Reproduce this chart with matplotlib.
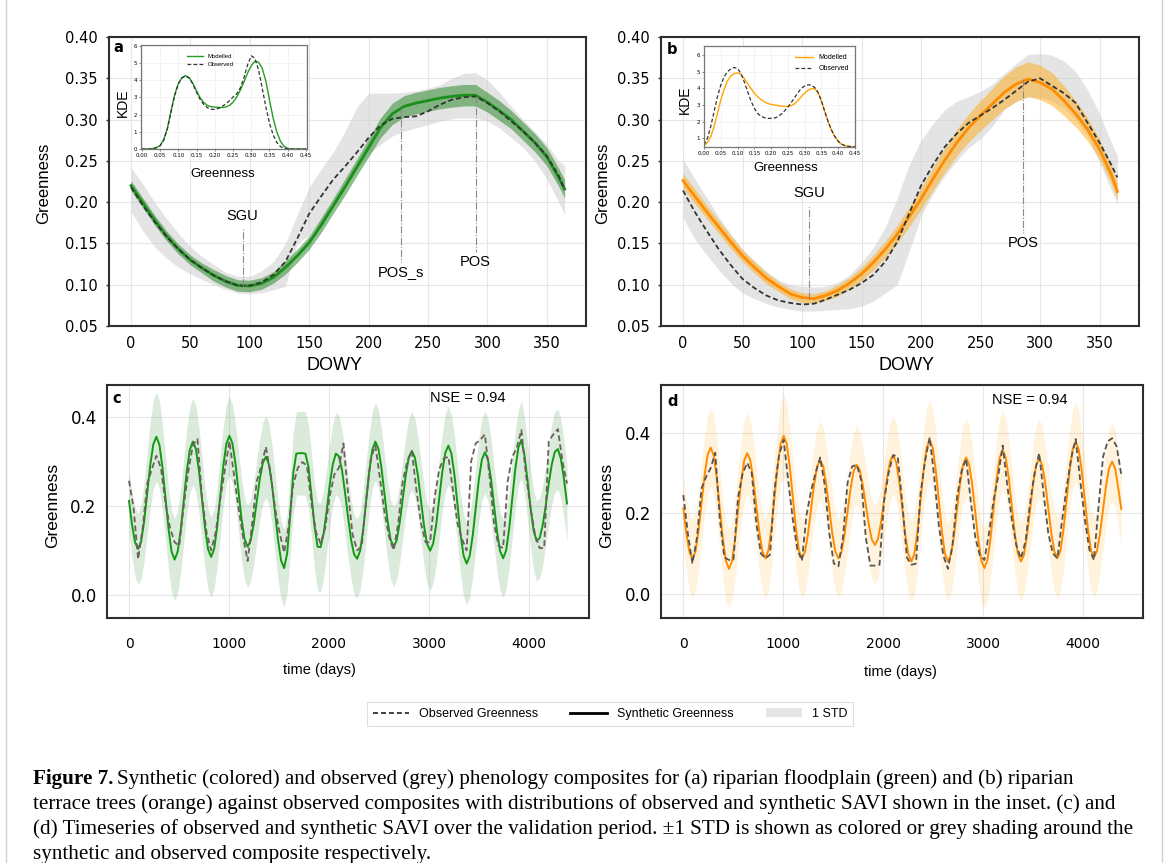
import numpy as np
import matplotlib
matplotlib.use("Agg")
import matplotlib.pyplot as plt
from matplotlib.lines import Line2D
from matplotlib.patches import Patch
from matplotlib.ticker import FormatStrFormatter

plt.rcParams['font.family'] = 'DejaVu Sans'
SANS = 'Liberation Sans'
SERIF = 'Liberation Serif'

# ---------------- composites (panels a, b) ----------------
dowy = [0, 10, 20, 30, 40, 50, 60, 70, 80, 90,
        100, 110, 120, 130, 140, 150, 160, 170, 180, 190,
        200, 210, 220, 230, 240, 250, 260, 270, 280, 290,
        300, 310, 320, 330, 340, 350, 360, 365]

a_mod = [0.220, 0.199, 0.178, 0.159, 0.143, 0.130, 0.120, 0.111, 0.104, 0.099,
         0.0985, 0.1015, 0.109, 0.121, 0.135, 0.151, 0.172, 0.195, 0.218, 0.242,
         0.266, 0.290, 0.307, 0.316, 0.320, 0.323, 0.326, 0.328, 0.3295, 0.3295,
         0.321, 0.311, 0.300, 0.286, 0.272, 0.255, 0.230, 0.216]
a_mod_std = [0.006, 0.006, 0.006, 0.006, 0.006, 0.006, 0.006, 0.007, 0.007, 0.007,
             0.007, 0.007, 0.007, 0.008, 0.008, 0.008, 0.009, 0.009, 0.010, 0.010,
             0.011, 0.012, 0.013, 0.013, 0.013, 0.013, 0.013, 0.013, 0.013, 0.013,
             0.012, 0.012, 0.011, 0.011, 0.011, 0.011, 0.011, 0.011]
a_obs = [0.218, 0.196, 0.176, 0.158, 0.143, 0.130, 0.120, 0.111, 0.104, 0.099,
         0.099, 0.103, 0.112, 0.128, 0.156, 0.186, 0.207, 0.227, 0.243, 0.260,
         0.278, 0.293, 0.301, 0.303, 0.304, 0.310, 0.318, 0.324, 0.327, 0.328,
         0.320, 0.310, 0.298, 0.286, 0.272, 0.256, 0.232, 0.215]
a_obs_lo = [0.189, 0.165, 0.146, 0.132, 0.121, 0.113, 0.106, 0.100, 0.094, 0.090,
            0.089, 0.090, 0.094, 0.098, 0.150, 0.160, 0.175, 0.198, 0.222, 0.240,
            0.258, 0.270, 0.280, 0.286, 0.290, 0.294, 0.298, 0.301, 0.302, 0.302,
            0.298, 0.290, 0.278, 0.266, 0.250, 0.228, 0.200, 0.185]
a_obs_hi = [0.242, 0.222, 0.200, 0.180, 0.162, 0.146, 0.134, 0.124, 0.115, 0.110,
            0.110, 0.117, 0.128, 0.150, 0.185, 0.218, 0.240, 0.260, 0.285, 0.315,
            0.332, 0.332, 0.332, 0.333, 0.335, 0.338, 0.342, 0.350, 0.356, 0.357,
            0.348, 0.333, 0.316, 0.300, 0.285, 0.270, 0.250, 0.245]

b_mod = [0.226, 0.207, 0.188, 0.170, 0.152, 0.135, 0.121, 0.108, 0.098, 0.089,
         0.0845, 0.083, 0.087, 0.093, 0.102, 0.113, 0.127, 0.143, 0.161, 0.182,
         0.204, 0.228, 0.251, 0.272, 0.290, 0.305, 0.319, 0.333, 0.343, 0.349,
         0.345, 0.337, 0.323, 0.307, 0.288, 0.264, 0.233, 0.213]
b_mod_std = [0.009, 0.009, 0.008, 0.008, 0.008, 0.007, 0.007, 0.007, 0.006, 0.006,
             0.006, 0.006, 0.006, 0.007, 0.007, 0.008, 0.009, 0.010, 0.011, 0.012,
             0.013, 0.014, 0.015, 0.016, 0.017, 0.018, 0.019, 0.020, 0.021, 0.021,
             0.021, 0.020, 0.018, 0.016, 0.014, 0.012, 0.011, 0.010]
b_obs = [0.214, 0.188, 0.165, 0.143, 0.124, 0.107, 0.096, 0.087, 0.081, 0.078,
         0.076, 0.077, 0.082, 0.088, 0.094, 0.102, 0.112, 0.128, 0.152, 0.186,
         0.220, 0.245, 0.267, 0.283, 0.296, 0.305, 0.314, 0.324, 0.335, 0.346,
         0.350, 0.341, 0.332, 0.320, 0.296, 0.272, 0.245, 0.230]
b_obs_lo = [0.181, 0.155, 0.136, 0.118, 0.102, 0.090, 0.083, 0.077, 0.073, 0.070,
            0.068, 0.068, 0.069, 0.070, 0.071, 0.074, 0.080, 0.090, 0.100, 0.140,
            0.183, 0.210, 0.232, 0.250, 0.266, 0.277, 0.292, 0.312, 0.322, 0.327,
            0.327, 0.322, 0.314, 0.300, 0.280, 0.248, 0.214, 0.198]
b_obs_hi = [0.252, 0.228, 0.205, 0.182, 0.162, 0.143, 0.129, 0.116, 0.106, 0.100,
            0.098, 0.097, 0.098, 0.103, 0.112, 0.127, 0.145, 0.170, 0.205, 0.245,
            0.275, 0.295, 0.312, 0.322, 0.328, 0.334, 0.343, 0.356, 0.368, 0.379,
            0.380, 0.378, 0.371, 0.358, 0.336, 0.307, 0.272, 0.256]

# phenology markers: name, day, value on curve, end of the marker line
a_events = ['SGU', 'POS_s', 'POS']
a_event_day = [94, 227, 290]
a_event_val = [0.098, 0.314, 0.328]
a_event_end = [0.168, 0.128, 0.140]
b_events = ['SGU', 'POS']
b_event_day = [106, 286]
b_event_val = [0.083, 0.349]
b_event_end = [0.196, 0.163]

# ---------------- KDE insets ----------------
kde_x = np.round(np.linspace(0, 0.45, 46), 2)
kde_a_mod = [0, 0, 0, 0.03, 0.08, 0.20, 0.55, 1.20, 2.20, 3.15,
             3.80, 4.15, 4.27, 4.15, 3.82, 3.38, 2.98, 2.70, 2.53, 2.46,
             2.44, 2.42, 2.41, 2.44, 2.53, 2.72, 3.02, 3.42, 3.90, 4.42,
             4.85, 5.10, 5.05, 4.70, 3.95, 2.85, 1.80, 1.00, 0.45, 0.15,
             0.04, 0, 0, 0, 0, 0]
kde_a_obs = [0, 0, 0, 0.02, 0.07, 0.18, 0.50, 1.15, 2.15, 3.10,
             3.78, 4.13, 4.25, 4.12, 3.78, 3.30, 2.88, 2.58, 2.40, 2.31,
             2.30, 2.36, 2.47, 2.62, 2.80, 3.02, 3.20, 3.55, 4.15, 4.90,
             5.42, 5.28, 4.60, 3.55, 2.45, 1.50, 0.82, 0.38, 0.14, 0.05,
             0.01, 0, 0, 0, 0, 0]
kde_b_mod = [0.55, 0.75, 1.10, 1.70, 2.50, 3.30, 3.95, 4.45, 4.75, 4.90,
             4.93, 4.85, 4.60, 4.30, 4.00, 3.72, 3.50, 3.32, 3.20, 3.10,
             3.04, 3.00, 2.97, 2.94, 2.92, 2.92, 2.96, 3.08, 3.28, 3.50,
             3.72, 3.90, 3.98, 3.98, 3.75, 3.25, 2.60, 2.00, 1.50, 1.10,
             0.82, 0.65, 0.56, 0.52, 0.50, 0.50]
kde_b_obs = [0.60, 1.00, 1.70, 2.60, 3.50, 4.20, 4.70, 5.00, 5.18, 5.26,
             5.20, 4.90, 4.40, 3.80, 3.25, 2.80, 2.50, 2.33, 2.24, 2.20,
             2.20, 2.22, 2.30, 2.45, 2.65, 2.88, 3.15, 3.45, 3.75, 4.00,
             4.15, 4.22, 4.20, 4.05, 3.75, 3.25, 2.60, 2.00, 1.50, 1.10,
             0.82, 0.65, 0.56, 0.52, 0.50, 0.50]

# ---------------- validation time series (panels c, d) ----------------
syn_days = np.linspace(0, 4380, 145)   # 12 samples per year
obs_days = np.linspace(0, 4380, 97)    # 8 samples per year

c_syn = [0.211, 0.157, 0.118, 0.103, 0.120, 0.166, 0.229, 0.292, 0.338, 0.355, 0.337, 0.286,
         0.217, 0.148, 0.097, 0.079, 0.097, 0.145, 0.212, 0.278, 0.326, 0.344, 0.327, 0.279,
         0.215, 0.150, 0.102, 0.085, 0.103, 0.153, 0.221, 0.289, 0.339, 0.357, 0.340, 0.295,
         0.233, 0.170, 0.125, 0.108, 0.122, 0.159, 0.209, 0.260, 0.296, 0.310, 0.293, 0.248,
         0.185, 0.123, 0.077, 0.060, 0.093, 0.179, 0.273, 0.317, 0.318, 0.318, 0.317, 0.287,
         0.223, 0.154, 0.108, 0.107, 0.138, 0.189, 0.247, 0.293, 0.317, 0.311, 0.281, 0.231,
         0.175, 0.124, 0.091, 0.081, 0.099, 0.147, 0.213, 0.278, 0.326, 0.344, 0.328, 0.285,
         0.226, 0.167, 0.124, 0.108, 0.122, 0.162, 0.216, 0.269, 0.309, 0.323, 0.308, 0.267,
         0.211, 0.155, 0.114, 0.099, 0.115, 0.158, 0.217, 0.276, 0.319, 0.335, 0.317, 0.269,
         0.203, 0.136, 0.088, 0.070, 0.087, 0.133, 0.195, 0.258, 0.303, 0.320, 0.304, 0.261,
         0.201, 0.142, 0.098, 0.082, 0.100, 0.149, 0.215, 0.282, 0.330, 0.348, 0.314, 0.258,
         0.197, 0.145, 0.121, 0.127, 0.156, 0.200, 0.250, 0.293, 0.321, 0.327, 0.305, 0.260,
         0.205]
c_std = [0.068, 0.074, 0.078, 0.080, 0.083, 0.088, 0.093, 0.097, 0.100, 0.100, 0.098, 0.096,
         0.094, 0.092, 0.092, 0.092, 0.093, 0.094, 0.095, 0.096, 0.097, 0.097, 0.097, 0.096,
         0.094, 0.092, 0.091, 0.090, 0.090, 0.090, 0.090, 0.089, 0.088, 0.088, 0.089, 0.089,
         0.090, 0.091, 0.092, 0.092, 0.092, 0.092, 0.092, 0.092, 0.092, 0.092, 0.091, 0.091,
         0.090, 0.089, 0.088, 0.087, 0.088, 0.090, 0.092, 0.094, 0.094, 0.094, 0.094, 0.094,
         0.095, 0.097, 0.099, 0.100, 0.098, 0.095, 0.093, 0.092, 0.092, 0.092, 0.091, 0.091,
         0.090, 0.089, 0.089, 0.089, 0.088, 0.088, 0.088, 0.087, 0.087, 0.087, 0.087, 0.087,
         0.088, 0.089, 0.090, 0.090, 0.089, 0.089, 0.088, 0.088, 0.088, 0.088, 0.088, 0.088,
         0.089, 0.090, 0.090, 0.090, 0.089, 0.089, 0.088, 0.088, 0.088, 0.088, 0.088, 0.089,
         0.090, 0.091, 0.092, 0.092, 0.092, 0.092, 0.092, 0.092, 0.092, 0.092, 0.092, 0.091,
         0.090, 0.089, 0.088, 0.088, 0.087, 0.087, 0.086, 0.086, 0.086, 0.086, 0.086, 0.087,
         0.088, 0.089, 0.090, 0.090, 0.090, 0.090, 0.090, 0.090, 0.090, 0.090, 0.089, 0.088,
         0.085]
c_obs = [0.256, 0.195, 0.080, 0.150, 0.250, 0.282, 0.312, 0.285,
         0.205, 0.150, 0.118, 0.110, 0.200, 0.277, 0.336, 0.350,
         0.220, 0.140, 0.100, 0.140, 0.215, 0.280, 0.345, 0.270,
         0.195, 0.130, 0.076, 0.160, 0.255, 0.290, 0.332, 0.275,
         0.195, 0.140, 0.095, 0.155, 0.247, 0.285, 0.298, 0.290,
         0.205, 0.140, 0.115, 0.150, 0.222, 0.270, 0.285, 0.340,
         0.230, 0.135, 0.100, 0.108, 0.215, 0.306, 0.335, 0.262,
         0.185, 0.130, 0.100, 0.160, 0.255, 0.300, 0.322, 0.235,
         0.160, 0.118, 0.118, 0.220, 0.282, 0.306, 0.310, 0.235,
         0.160, 0.125, 0.100, 0.300, 0.340, 0.348, 0.360, 0.268,
         0.160, 0.110, 0.105, 0.255, 0.310, 0.330, 0.370, 0.270,
         0.195, 0.135, 0.105, 0.105, 0.345, 0.360, 0.372, 0.300,
         0.250]

d_syn = [0.212, 0.150, 0.104, 0.087, 0.105, 0.156, 0.225, 0.294, 0.345, 0.363, 0.343, 0.288,
         0.213, 0.137, 0.082, 0.062, 0.081, 0.134, 0.206, 0.277, 0.330, 0.349, 0.332, 0.284,
         0.218, 0.153, 0.105, 0.088, 0.108, 0.164, 0.240, 0.316, 0.372, 0.392, 0.372, 0.316,
         0.240, 0.164, 0.108, 0.088, 0.104, 0.149, 0.210, 0.271, 0.316, 0.332, 0.316, 0.271,
         0.210, 0.149, 0.104, 0.088, 0.104, 0.146, 0.204, 0.262, 0.304, 0.320, 0.307, 0.270,
         0.221, 0.171, 0.134, 0.121, 0.136, 0.177, 0.233, 0.288, 0.329, 0.344, 0.326, 0.278,
         0.212, 0.146, 0.098, 0.080, 0.100, 0.156, 0.231, 0.307, 0.362, 0.382, 0.362, 0.307,
         0.231, 0.156, 0.100, 0.080, 0.097, 0.145, 0.209, 0.274, 0.321, 0.338, 0.320, 0.270,
         0.201, 0.133, 0.082, 0.064, 0.084, 0.137, 0.211, 0.284, 0.337, 0.357, 0.338, 0.288,
         0.219, 0.149, 0.099, 0.080, 0.097, 0.144, 0.208, 0.272, 0.319, 0.336, 0.319, 0.274,
         0.212, 0.150, 0.105, 0.088, 0.107, 0.160, 0.233, 0.305, 0.358, 0.377, 0.358, 0.305,
         0.234, 0.162, 0.109, 0.090, 0.106, 0.150, 0.209, 0.269, 0.312, 0.328, 0.310, 0.262,
         0.210]
d_std = [0.085, 0.090, 0.095, 0.098, 0.099, 0.099, 0.099, 0.098, 0.097, 0.097, 0.098, 0.099,
         0.099, 0.099, 0.098, 0.097, 0.098, 0.099, 0.100, 0.100, 0.100, 0.100, 0.100, 0.100,
         0.100, 0.100, 0.099, 0.098, 0.099, 0.100, 0.101, 0.101, 0.101, 0.101, 0.100, 0.100,
         0.099, 0.098, 0.097, 0.097, 0.097, 0.097, 0.097, 0.097, 0.097, 0.097, 0.097, 0.097,
         0.097, 0.097, 0.097, 0.097, 0.097, 0.097, 0.097, 0.097, 0.097, 0.097, 0.097, 0.097,
         0.097, 0.097, 0.097, 0.097, 0.097, 0.097, 0.097, 0.097, 0.097, 0.097, 0.097, 0.097,
         0.098, 0.099, 0.100, 0.100, 0.100, 0.100, 0.100, 0.100, 0.099, 0.098, 0.098, 0.098,
         0.097, 0.097, 0.097, 0.097, 0.097, 0.097, 0.097, 0.097, 0.097, 0.097, 0.097, 0.097,
         0.098, 0.099, 0.100, 0.100, 0.100, 0.100, 0.100, 0.099, 0.098, 0.098, 0.098, 0.098,
         0.097, 0.097, 0.097, 0.097, 0.097, 0.097, 0.097, 0.097, 0.097, 0.097, 0.097, 0.097,
         0.098, 0.099, 0.100, 0.100, 0.100, 0.100, 0.100, 0.099, 0.098, 0.098, 0.098, 0.098,
         0.098, 0.098, 0.098, 0.098, 0.098, 0.098, 0.098, 0.098, 0.097, 0.097, 0.095, 0.092,
         0.090]
d_obs = [0.245, 0.150, 0.075, 0.140, 0.262, 0.290, 0.312, 0.350,
         0.185, 0.090, 0.084, 0.085, 0.240, 0.298, 0.325, 0.300,
         0.175, 0.100, 0.088, 0.097, 0.260, 0.345, 0.382, 0.280,
         0.185, 0.110, 0.082, 0.195, 0.255, 0.300, 0.338, 0.270,
         0.150, 0.075, 0.068, 0.140, 0.275, 0.316, 0.320, 0.282,
         0.140, 0.070, 0.070, 0.072, 0.230, 0.300, 0.344, 0.340,
         0.225, 0.090, 0.072, 0.075, 0.250, 0.330, 0.388, 0.290,
         0.170, 0.095, 0.062, 0.120, 0.240, 0.305, 0.335, 0.230,
         0.140, 0.095, 0.084, 0.150, 0.232, 0.290, 0.368, 0.270,
         0.185, 0.120, 0.088, 0.130, 0.225, 0.300, 0.349, 0.245,
         0.150, 0.100, 0.088, 0.180, 0.262, 0.336, 0.384, 0.280,
         0.185, 0.110, 0.084, 0.215, 0.340, 0.378, 0.386, 0.365,
         0.295]
nse_c = 0.94
nse_d = 0.94

caption = [
    "Synthetic (colored) and observed (grey) phenology composites for (a) riparian floodplain (green) and (b) riparian",
    "terrace trees (orange) against observed composites with distributions of observed and synthetic SAVI shown in the inset. (c) and",
    "(d) Timeseries of observed and synthetic SAVI over the validation period. \u00b11 STD is shown as colored or grey shading around the",
    "synthetic and observed composite respectively.",
]

# ---------------- layout helpers (pixel boxes) ----------------
W, H = 1168, 863
fig = plt.figure(figsize=(W / 100, H / 100), dpi=100)


def box(l, t, r, b):
    return [l / W, 1 - b / H, (r - l) / W, (b - t) / H]


def px(x, y):
    return x / W, 1 - y / H


GREEN = '#1a8f1a'
ORANGE = '#ff8c00'
SPINE = '#2e2e2e'


def frame(ax):
    ax.grid(True, color='#e6e6e6', lw=0.8)
    ax.set_axisbelow(True)
    for s in ax.spines.values():
        s.set_color(SPINE)
        s.set_linewidth(1.5)


def composite(ax, mod, mod_std, obs, lo, hi, col, band_col, band_alpha):
    mod = np.array(mod)
    std = np.array(mod_std)
    ax.fill_between(dowy, lo, hi, color='#cfcfcf', alpha=0.55, lw=0)
    ax.fill_between(dowy, mod - std, mod + std, color=band_col, alpha=band_alpha, lw=0)
    ax.plot(dowy, mod, color=col, lw=2.0)
    ax.plot(dowy, obs, color='#333333', lw=1.3, ls=(0, (2.8, 1.6)))
    ax.set_xlim(-18.25, 383.25)
    ax.set_ylim(0.05, 0.40)
    ax.set_xticks(np.arange(0, 351, 50))
    ax.set_yticks(np.arange(0.05, 0.401, 0.05))
    ax.yaxis.set_major_formatter(FormatStrFormatter('%.2f'))
    ax.tick_params(axis='x', length=0, pad=7.5, labelsize=10.5)
    ax.tick_params(axis='y', length=2.5, width=1, pad=6, labelsize=10.5, color=SPINE)
    frame(ax)


def markers(ax, names, days, vals, ends):
    for name, d, v, e in zip(names, days, vals, ends):
        ax.plot([d, d], [v, e], color='#8a8a8a', lw=0.8, ls='-.')
        off = 0.015 if e > v else -0.013
        ax.text(d, e + off, name, ha='center', va='center', fontsize=10.5, family=SANS)


# ---------------- panel a ----------------
ax_a = fig.add_axes(box(109.3, 37, 586.3, 326))
composite(ax_a, a_mod, a_mod_std, a_obs, a_obs_lo, a_obs_hi, GREEN, '#2e8b2e', 0.55)
markers(ax_a, a_events, a_event_day, a_event_val, a_event_end)

# ---------------- panel b ----------------
ax_b = fig.add_axes(box(661.3, 37, 1139.1, 326))
composite(ax_b, b_mod, b_mod_std, b_obs, b_obs_lo, b_obs_hi, ORANGE, 'orange', 0.45)
markers(ax_b, b_events, b_event_day, b_event_val, b_event_end)


# ---------------- insets ----------------
def inset(rect, mod, obs, col, ylim, xlim, loc, anchor, lfs):
    ia = fig.add_axes(rect)
    ia.plot(kde_x, mod, color=col, lw=1.0, label='Modelled')
    ia.plot(kde_x, obs, color='#333333', lw=0.9, ls=(0, (3, 1.8)), label='Observed')
    ia.set_xlim(*xlim)
    ia.set_ylim(*ylim)
    ia.set_xticks(np.arange(0, 0.451, 0.05))
    ia.xaxis.set_major_formatter(FormatStrFormatter('%.2f'))
    ia.set_yticks(range(int(np.ceil(ylim[0])), 7))
    ia.tick_params(labelsize=4, length=1.5, width=0.5, pad=1.2, color='#555555')
    ia.grid(True, color='#eeeeee', lw=0.5)
    for s in ia.spines.values():
        s.set_color('#777777')
        s.set_linewidth(0.9)
    ia.legend(loc=loc, bbox_to_anchor=anchor, frameon=False, prop={'family': SANS, 'size': lfs},
              handlelength=2.6, labelspacing=0.6)
    return ia


inset(box(140.7, 45, 306.7, 149), kde_a_mod, kde_a_obs, '#22a022', (0, 6.05), (-0.003, 0.452),
      'upper center', (0.42, 0.97), 4.3)
inset(box(704, 46, 855, 147), kde_b_mod, kde_b_obs, 'orange', (0.48, 6.55), (0, 0.45),
      'upper right', (1.0, 0.98), 5)

fig.text(*px(123, 103), 'KDE', rotation=90, ha='center', va='center', fontsize=10, family=SANS)
fig.text(*px(223, 174), 'Greenness', ha='center', va='center', fontsize=9.5, family=SANS)
fig.text(*px(685, 100), 'KDE', rotation=90, ha='center', va='center', fontsize=10, family=SANS)
fig.text(*px(786, 168), 'Greenness', ha='center', va='center', fontsize=9.5, family=SANS)


# ---------------- panels c, d ----------------
def series(ax, syn, std, obs, col, band_col, band_alpha, obs_col, ylim):
    syn = np.array(syn)
    std = np.array(std)
    ax.fill_between(syn_days, syn - std, syn + std, color=band_col, alpha=band_alpha, lw=0)
    ax.plot(syn_days, syn, color=col, lw=1.4)
    ax.plot(obs_days, obs, color=obs_col, lw=1.3, ls=(0, (3.2, 1.8)))
    ax.set_xlim(-219, 4599)
    ax.set_ylim(*ylim)
    ax.set_xticks([0, 1000, 2000, 3000, 4000])
    ax.set_yticks([0.0, 0.2, 0.4])
    ax.yaxis.set_major_formatter(FormatStrFormatter('%.1f'))
    ax.tick_params(axis='x', length=0, pad=14, labelsize=10)
    ax.tick_params(axis='y', length=0, pad=7.5, labelsize=12)
    frame(ax)


ax_c = fig.add_axes(box(107.1, 385, 588.9, 618))
series(ax_c, c_syn, c_std, c_obs, '#139a13', '#2e8b2e', 0.17, '#6e5e5e', (-0.052, 0.471))
ax_d = fig.add_axes(box(661.4, 385, 1143.2, 618))
series(ax_d, d_syn, d_std, d_obs, ORANGE, 'orange', 0.13, '#555555', (-0.06, 0.518))

# ---------------- labels ----------------
fig.text(*px(44, 183), 'Greenness', rotation=90, ha='center', va='center', fontsize=12, family=SANS)
fig.text(*px(603, 183), 'Greenness', rotation=90, ha='center', va='center', fontsize=12, family=SANS)
fig.text(*px(335, 365), 'DOWY', ha='center', va='center', fontsize=13, family=SANS)
fig.text(*px(907, 365), 'DOWY', ha='center', va='center', fontsize=13, family=SANS)
fig.text(*px(53, 505), 'Greenness', rotation=90, ha='center', va='center', fontsize=12.5, family=SANS)
fig.text(*px(607, 505), 'Greenness', rotation=90, ha='center', va='center', fontsize=12.5, family=SANS)
fig.text(*px(319, 670), 'time (days)', ha='center', va='center', fontsize=10.5, family=SANS)
fig.text(*px(900, 672), 'time (days)', ha='center', va='center', fontsize=10.5, family=SANS)
fig.text(*px(468, 398), f'NSE = {nse_c:.2f}', ha='center', va='center', fontsize=10.5, family=SANS)
fig.text(*px(1030, 400), f'NSE = {nse_d:.2f}', ha='center', va='center', fontsize=10.5, family=SANS)
for letter, (x, y) in zip('abcd', [(118, 47), (672, 50), (117, 398), (673, 401)]):
    fig.text(*px(x, y), letter, ha='center', va='center', fontsize=10.5, fontweight='bold')

# ---------------- shared legend ----------------
handles = [Line2D([], [], color='#333333', lw=1.3, ls=(0, (2.8, 1.6))),
           Line2D([], [], color='black', lw=2.0),
           Patch(facecolor='#e6e6e6', edgecolor='none')]
leg = fig.legend(handles, ['Observed Greenness', 'Synthetic Greenness', '1 STD'],
                 loc='center', bbox_to_anchor=px(610, 714), ncol=3, frameon=True,
                 fancybox=False, edgecolor='#d8d8d8', prop={'family': SANS, 'size': 9},
                 handlelength=2.9, columnspacing=2.6, borderpad=0.45)
leg.get_frame().set_linewidth(0.8)

# ---------------- caption ----------------
renderer = fig.canvas.get_renderer()
cap_fs = 15.2
for i, line in enumerate(caption):
    y = 784 + 25 * i
    x = 33
    if i == 0:
        t = fig.text(*px(x, y), 'Figure 7.', fontweight='bold', family=SERIF, fontsize=cap_fs, va='baseline')
        x = t.get_window_extent(renderer).x1 + 4
    fig.text(*px(x, y), line, family=SERIF, fontsize=cap_fs, va='baseline')

# light page border at the sides
for xb in (6, 1162):
    fig.add_artist(Line2D([xb / W, xb / W], [0, 1], transform=fig.transFigure, color='#d0d0d0', lw=1))

fig.savefig('out.png', dpi=100)
